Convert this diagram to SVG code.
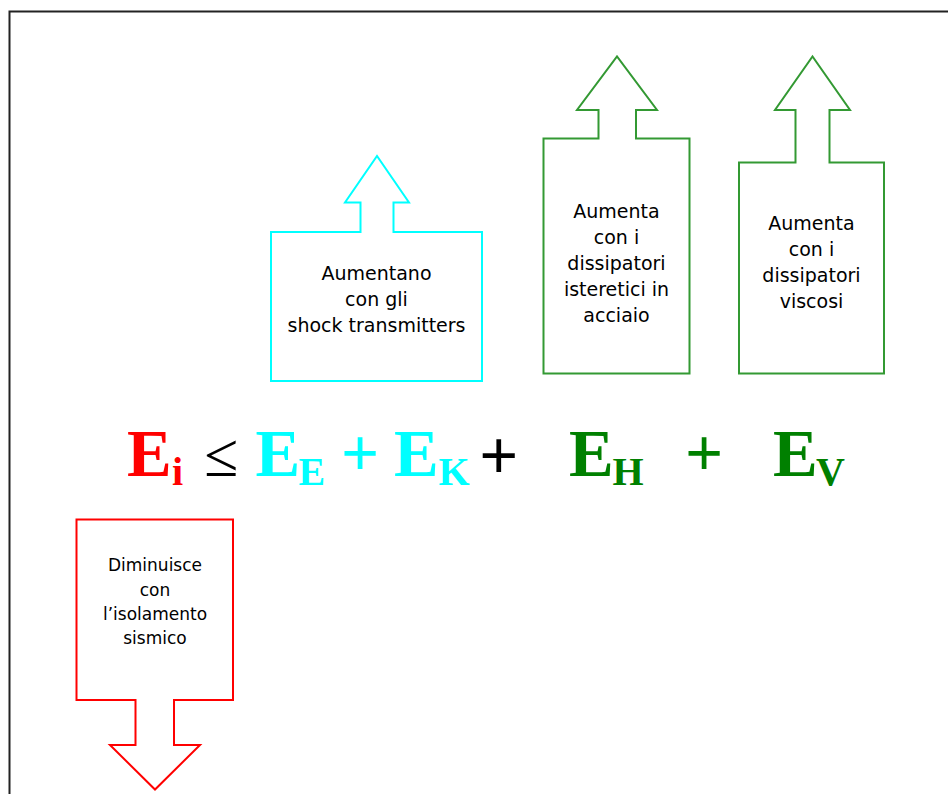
<svg xmlns="http://www.w3.org/2000/svg" width="948" height="794" viewBox="0 0 948 794">
<style>
.box{fill:#fff;stroke-width:2;stroke-linejoin:miter}
.lbl{font-family:"DejaVu Sans","Liberation Sans",sans-serif;font-size:19px;fill:#000;text-anchor:middle}
.lbl17{font-size:17px}
.eq{font-family:"Liberation Serif","Times New Roman",serif;font-weight:bold;font-size:67px}
.sub{font-size:40px}
.red{fill:#ff0000}
.cyan{fill:#00ffff}
.green{fill:#008000}
</style>
<rect width="948" height="794" fill="#fff"/>
<path d="M9.5,794 V11.5 H948" fill="none" stroke="#222" stroke-width="2"/>

<g id="connectors"></g>

<g id="node-ek">
<path class="box" stroke="#00ffff" d="M271,232 H360.5 V202.5 H345 L377,156 L409,202.5 H393.5 V232 H482 V381 H271 Z"/>
<text class="lbl" x="376.5" y="280">Aumentano</text>
<text class="lbl" x="376.5" y="306">con gli</text>
<text class="lbl" x="376.5" y="332">shock transmitters</text>
</g>

<g id="node-eh">
<path class="box" stroke="#339933" d="M543.5,138.5 H598.5 V110 H577 L617,56.5 L657,110 H636 V138.5 H689.5 V373.5 H543.5 Z"/>
<text class="lbl" x="616.5" y="218">Aumenta</text>
<text class="lbl" x="616.5" y="244">con i</text>
<text class="lbl" x="616.5" y="270">dissipatori</text>
<text class="lbl" x="616.5" y="296">isteretici in</text>
<text class="lbl" x="616.5" y="322">acciaio</text>
</g>

<g id="node-ev">
<path class="box" stroke="#339933" d="M739,162.5 H795.5 V110 H775 L812.5,56.5 L850,110 H829.5 V162.5 H884 V373.5 H739 Z"/>
<text class="lbl" x="811.5" y="230">Aumenta</text>
<text class="lbl" x="811.5" y="256">con i</text>
<text class="lbl" x="811.5" y="282">dissipatori</text>
<text class="lbl" x="811.5" y="308">viscosi</text>
</g>

<g id="node-ei">
<path class="box" stroke="#ff0000" d="M76.5,519.5 H233 V700 H174 V745 H200 L155,789.5 L110,745 H135.5 V700 H76.5 Z"/>
<text class="lbl lbl17" x="155" y="571">Diminuisce</text>
<text class="lbl lbl17" x="155" y="596">con</text>
<text class="lbl lbl17" x="155" y="620">l’isolamento</text>
<text class="lbl lbl17" x="155" y="644">sismico</text>
</g>

<g id="equation">
<text class="eq red" x="127" y="476">E</text>
<text class="eq sub red" x="172" y="485">i</text>
<text x="204" y="476" style="font-family:'Liberation Serif',serif;font-size:62px" fill="#000">≤</text>
<text class="eq cyan" x="255.5" y="476">E</text>
<text class="eq sub cyan" x="298.5" y="485">E</text>
<text class="eq cyan" x="341" y="476">+</text>
<text class="eq cyan" x="394" y="476">E</text>
<text class="eq sub cyan" x="438.5" y="485">K</text>
<text x="479.5" y="478" style="font-family:'Liberation Sans',sans-serif;font-size:66px" fill="#000">+</text>
<text class="eq green" x="569" y="476">E</text>
<text class="eq sub green" x="612.5" y="485">H</text>
<text class="eq green" x="685" y="476">+</text>
<text class="eq green" x="773" y="476">E</text>
<text class="eq sub green" x="816" y="485">V</text>
</g>
</svg>
